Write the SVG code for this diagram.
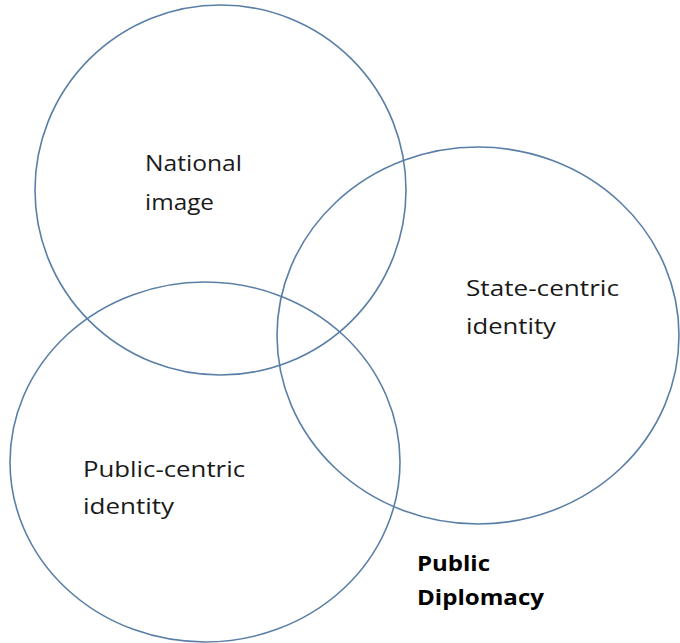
<svg xmlns="http://www.w3.org/2000/svg" width="680" height="643" viewBox="0 0 680 643">
  <style>
    .ring { fill: none; stroke: #5a7fa6; stroke-width: 1.6; }
    .lbl { font-family: "Open Sans", "Liberation Sans", sans-serif; font-size: 21px; fill: #1a1a1a; }
    .bold { font-weight: bold; fill: #000; }
  </style>
  <rect width="680" height="643" fill="#fff"/>
  <g id="national-image">
    <ellipse class="ring" cx="220.5" cy="190" rx="185.5" ry="185"/>
    <text class="lbl" x="145" y="171" textLength="97" lengthAdjust="spacingAndGlyphs">National</text>
    <text class="lbl" x="145" y="210" textLength="69" lengthAdjust="spacingAndGlyphs">image</text>
  </g>
  <g id="state-centric-identity">
    <ellipse class="ring" cx="478" cy="335.5" rx="201" ry="188.5"/>
    <text class="lbl" x="466" y="296" textLength="153" lengthAdjust="spacingAndGlyphs">State-centric</text>
    <text class="lbl" x="466" y="334" textLength="90" lengthAdjust="spacingAndGlyphs">identity</text>
  </g>
  <g id="public-centric-identity">
    <ellipse class="ring" cx="205" cy="462" rx="195" ry="180"/>
    <text class="lbl" x="83" y="477" textLength="162" lengthAdjust="spacingAndGlyphs">Public-centric</text>
    <text class="lbl" x="83" y="514" textLength="91" lengthAdjust="spacingAndGlyphs">identity</text>
  </g>
  <g id="public-diplomacy">
    <text class="lbl bold" x="417" y="571" textLength="73" lengthAdjust="spacingAndGlyphs">Public</text>
    <text class="lbl bold" x="417" y="605" textLength="127" lengthAdjust="spacingAndGlyphs">Diplomacy</text>
  </g>
  <g id="connectors"/>
</svg>
